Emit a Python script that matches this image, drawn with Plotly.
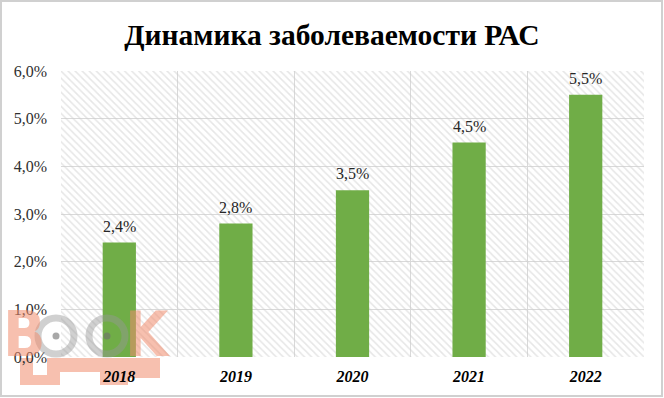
import plotly.graph_objects as go

years = ["2018", "2019", "2020", "2021", "2022"]
values = [0.024, 0.028, 0.035, 0.045, 0.055]
y_max = 0.06
y_ticks = [0.0, 0.01, 0.02, 0.03, 0.04, 0.05, 0.06]

xpos = list(range(len(years)))
serif = "Liberation Serif, Times New Roman, serif"

# plot area in page pixels (for decorations)
L, R, T, B = 61, 644, 71, 357
PW, PH = R - L, B - T


def px(x):
    return (x - L) / PW


def py(y):
    return (B - y) / PH


fig = go.Figure()
# hatched plot background (transparent so grid shows)
fig.add_trace(go.Bar(
    x=xpos, y=[y_max] * len(years), width=1.0,
    marker=dict(color="rgba(0,0,0,0)", line=dict(width=0),
                pattern=dict(shape="\\", fgcolor="#cdcdcd", bgcolor="rgba(0,0,0,0)", size=5, solidity=0.3)),
    hoverinfo="skip", showlegend=False,
))
fig.add_trace(go.Bar(
    x=xpos, y=values, width=0.285,
    marker=dict(color="#70ad47", line=dict(width=0)),
    hoverinfo="y", showlegend=False,
))
for xi, v in zip(xpos, values):
    fig.add_annotation(x=xi, y=v, xref="x", yref="y", text=("%.1f%%" % (v * 100)).replace(".", ","),
                       showarrow=False, yanchor="bottom", xanchor="center", yshift=6,
                       font=dict(family=serif, size=16, color="#262626"))

fig.update_layout(
    width=664, height=398,
    margin=dict(l=L, r=664 - R, t=T, b=398 - B),
    paper_bgcolor="white", plot_bgcolor="white",
    barmode="overlay", separators=", ",
    title=dict(text="<b>Динамика заболеваемости РАС</b>", x=0.5, xanchor="center",
               y=1 - 35 / 398, yanchor="middle",
               font=dict(family=serif, size=29.5, color="black")),
    xaxis=dict(range=[-0.5, len(years) - 0.5], tickvals=xpos,
               ticktext=["<b><i>%s</i></b>" % y for y in years],
               tickfont=dict(family=serif, size=16, color="black"),
               showgrid=False, zeroline=False, showline=False, ticks="",
               ticklabelstandoff=8,
               minor=dict(tickvals=[i - 0.5 for i in range(len(years) + 1)],
                          showgrid=True, gridcolor="#d9d9d9", gridwidth=1, ticks="")),
    yaxis=dict(range=[0, y_max], tickvals=y_ticks, tickformat=".1%",
               tickfont=dict(family=serif, size=16, color="#303030"),
               showgrid=True, gridcolor="#d9d9d9", gridwidth=1,
               zeroline=False, showline=False, ticks="", ticklabelstandoff=13),
)

# outer frame
fig.add_shape(type="rect", xref="paper", yref="paper",
              x0=px(1), x1=px(662), y0=py(396), y1=py(1),
              line=dict(color="#d0d0d0", width=2))

# watermark
salmon = "rgba(240,140,110,0.55)"
gray = "rgba(150,150,150,0.45)"
for ch, x, y in [("B", 24, 334), ("K", 147, 334)]:
    fig.add_annotation(text="<b>%s</b>" % ch, xref="paper", yref="paper",
                       x=px(x), y=py(y), showarrow=False, xanchor="center", yanchor="middle",
                       font=dict(family="Liberation Sans Narrow, DejaVu Sans Condensed", size=62, color=salmon))
for x0, x1, y0, y1 in [(20, 33, 358, 375), (47, 60, 358, 375), (20, 60, 375, 385),
                       (60, 100, 358, 372), (100, 160, 358, 378), (100, 128, 378, 385)]:
    fig.add_shape(type="rect", xref="paper", yref="paper", x0=px(x0), x1=px(x1),
                  y0=py(y1), y1=py(y0), fillcolor=salmon, line=dict(width=0), layer="below")
for cx in (56, 107):
    fig.add_shape(type="circle", xref="paper", yref="paper",
                  x0=px(cx - 18), x1=px(cx + 18), y0=py(336 + 18), y1=py(336 - 18),
                  line=dict(color=gray, width=7))
    fig.add_shape(type="circle", xref="paper", yref="paper",
                  x0=px(cx - 3.5), x1=px(cx + 3.5), y0=py(336 + 3.5), y1=py(336 - 3.5),
                  fillcolor="rgba(110,110,110,0.6)", line=dict(width=0))

fig.write_html("out.html", config={"displayModeBar": False},
               post_script="document.body.style.margin='0';")
